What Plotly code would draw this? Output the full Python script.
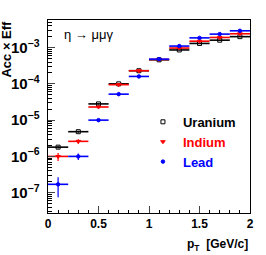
import plotly.graph_objects as go

pt = [0.1, 0.3, 0.5, 0.7, 0.9, 1.1, 1.3, 1.5, 1.7, 1.9]
pt_halfwidth = [0.1] * 10

uranium = [1.8e-6, 4.8e-6, 2.8e-5, 1.0e-4, 2.3e-4, 4.6e-4, 8.6e-4, 1.3e-3, 1.6e-3, 2.0e-3]
uranium_err = [0.15e-6, 0.3e-6, 1.0e-6, 3e-6, 5e-6, 8e-6, 1.5e-5, 2.5e-5, 3e-5, 4e-5]

indium = [1.0e-6, 2.6e-6, 2.3e-5, 9.5e-5, 2.3e-4, 4.7e-4, 9.7e-4, 1.5e-3, 1.9e-3, 2.4e-3]
indium_err = [0.25e-6, 0.35e-6, 1.0e-6, 3e-6, 5e-6, 8e-6, 1.5e-5, 3e-5, 4e-5, 5e-5]

lead = [1.7e-7, 1.0e-6, 1.0e-5, 5.2e-5, 1.6e-4, 4.8e-4, 1.1e-3, 1.85e-3, 2.35e-3, 2.9e-3]
lead_err = [0.95e-7, 0.2e-6, 0.6e-6, 2e-6, 4e-6, 8e-6, 1.8e-5, 3e-5, 4e-5, 5e-5]

FONT = "Liberation Sans"

series = [
    ("Uranium", uranium, uranium_err, "black", "square-open", 4),
    ("Indium", indium, indium_err, "red", "triangle-down", 4),
    ("Lead", lead, lead_err, "blue", "circle", 3.5),
]

fig = go.Figure()
for name, vals, errs, col, sym, sz in series:
    fig.add_trace(go.Scatter(
        x=pt, y=vals, mode="markers",
        name=f"<b><span style='color:{col}'>{name}</span></b>",
        legendgroup=name,
        marker=dict(symbol=sym, size=sz, color=col, line=dict(color=col, width=1)),
        error_x=dict(type="data", array=pt_halfwidth, color=col, thickness=1.6, width=0),
        error_y=dict(type="data", array=errs, color=col, thickness=1.2, width=0),
    ))

fig.update_layout(
    width=266, height=255,
    margin=dict(l=48, r=16, t=20, b=42),
    paper_bgcolor="white", plot_bgcolor="white",
    font=dict(family=FONT, size=12, color="black"),
    showlegend=True,
    legend=dict(x=0.47, y=0.55, xanchor="left", yanchor="top",
                bgcolor="rgba(0,0,0,0)", font=dict(family=FONT, size=13),
                itemwidth=30, tracegroupgap=0, traceorder="grouped"),
    xaxis=dict(range=[0, 2], dtick=0.5, tick0=0, ticks="inside", ticklen=7,
               showline=True, linecolor="black", linewidth=1, mirror=True,
               showgrid=False, zeroline=False,
               tickfont=dict(family=FONT, size=12, color="black", weight="bold"),
               tickformat="~g",
               minor=dict(dtick=0.1, ticks="inside", ticklen=3.5, tickcolor="black", showgrid=False)),
    yaxis=dict(type="log", range=[-7.56, -2.24], dtick=1, exponentformat="power",
               ticks="inside", ticklen=7, ticklabelstandoff=5,
               showline=True, linecolor="black", linewidth=1, mirror=True,
               showgrid=False, zeroline=False,
               tickfont=dict(family=FONT, size=12, color="black", weight="bold"),
               minor=dict(dtick="D1", ticks="inside", ticklen=3.5, tickcolor="black", showgrid=False)),
    annotations=[
        dict(text="<b>Acc × Eff</b>", textangle=-90, xref="paper", yref="paper",
             x=-0.205, y=0.85, xanchor="center", yanchor="middle", showarrow=False,
             font=dict(family=FONT, size=13)),
        dict(text="<b>p<sub>T</sub>  [GeV/c]</b>", xref="paper", yref="paper",
             x=1.0, y=-0.115, xanchor="right", yanchor="top", showarrow=False,
             font=dict(family=FONT, size=12)),
        dict(text="η → μμγ", xref="paper", yref="paper",
             x=0.07, y=0.927, xanchor="left", yanchor="middle", showarrow=False,
             font=dict(family=FONT, size=13)),
    ],
)

fig.write_html("out.html", config={"displayModeBar": False},
               post_script="document.body.style.margin='0';")
